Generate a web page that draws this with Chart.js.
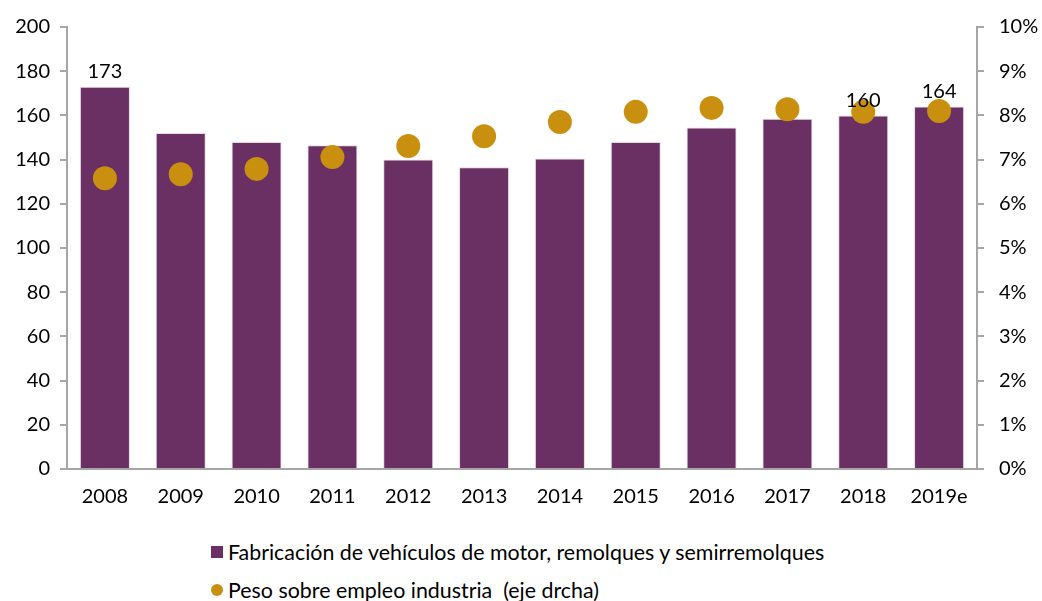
<!DOCTYPE html>
<html>
<head>
<meta charset="utf-8">
<script src="https://cdn.jsdelivr.net/npm/chart.js@4/dist/chart.umd.min.js"></script>
<style>
  body { margin: 0; background: #fff; font-family: Lato, sans-serif; }
  #wrap { position: relative; width: 1042px; height: 517px; }
  #legend { position: absolute; left: 211px; top: 533px; font-size: 21.4px; color: #000; white-space: pre; }
  #legend div { height: 38px; line-height: 30px; display: flex; align-items: center; }
  #legend span.mk { display: inline-block; margin-right: 5px; }
</style>
</head>
<body>
<div id="wrap"><canvas id="chart" width="1042" height="517"></canvas></div>
<div id="legend"></div>
<script>
// categories and values
const years = ['2008', '2009', '2010', '2011', '2012', '2013', '2014', '2015', '2016', '2017', '2018', '2019e'];
const empleo = [173, 152, 148, 146.5, 140, 136.5, 140.5, 148, 154.5, 158.5, 160, 164];
const peso = [6.58, 6.67, 6.79, 7.06, 7.31, 7.53, 7.85, 8.08, 8.17, 8.14, 8.08, 8.1];
const labelled = [0, 10, 11]; // bars that carry a value label

const purple = '#6A3064';
const gold = '#C9900F';
const axisGray = '#A6A6A6';

Chart.defaults.font.family = 'Lato, sans-serif';
Chart.defaults.font.size = 20;
Chart.defaults.color = '#000';

const barLabels = {
  id: 'barLabels',
  afterDatasetsDraw(chart) {
    const ctx = chart.ctx;
    const meta = chart.getDatasetMeta(0);
    ctx.save();
    ctx.font = '20px Lato, sans-serif';
    ctx.fillStyle = '#000';
    ctx.textAlign = 'center';
    ctx.textBaseline = 'bottom';
    labelled.forEach(i => {
      const bar = meta.data[i];
      ctx.fillText(String(empleo[i]), bar.x, bar.y - 5);
    });
    ctx.restore();
  }
};

const chart = new Chart(document.getElementById('chart'), {
  data: {
    labels: years,
    datasets: [
      {
        type: 'bar',
        label: 'Fabricación de vehículos de motor, remolques y semirremolques',
        data: empleo,
        yAxisID: 'y',
        backgroundColor: purple,
        borderColor: '#E6D8E4',
        borderWidth: 1,
        categoryPercentage: 0.66,
        barPercentage: 1.0,
        order: 1
      },
      {
        type: 'line',
        label: 'Peso sobre empleo industria  (eje drcha)',
        data: peso,
        yAxisID: 'y1',
        showLine: false,
        pointRadius: 12,
        pointHoverRadius: 12,
        pointBackgroundColor: gold,
        pointBorderWidth: 0,
        borderColor: gold,
        backgroundColor: gold,
        order: 0
      }
    ]
  },
  options: {
    responsive: false,
    animation: false,
    layout: { padding: { top: 18, left: 0, right: 0, bottom: 0 } },
    plugins: {
      legend: { display: false },
      tooltip: { enabled: false }
    },
    scales: {
      x: {
        grid: { display: false },
        border: { display: true, color: axisGray, width: 2 },
        ticks: { padding: 8, maxRotation: 0, autoSkip: false }
      },
      y: {
        position: 'left',
        min: 0,
        max: 200,
        ticks: { stepSize: 20, padding: 10 },
        grid: { drawOnChartArea: false, tickLength: 7, color: axisGray, lineWidth: 2 },
        border: { display: true, color: axisGray, width: 2 },
        afterFit(scale) { scale.width = 67; }
      },
      y1: {
        position: 'right',
        min: 0,
        max: 10,
        ticks: { stepSize: 1, padding: 15, callback: v => v + '%' },
        grid: { drawOnChartArea: false, tickLength: 7, color: axisGray, lineWidth: 2 },
        border: { display: true, color: axisGray, width: 2 },
        afterFit(scale) { scale.width = 65; }
      }
    }
  },
  plugins: [barLabels]
});

// html legend, one entry per line
const legend = document.getElementById('legend');
chart.data.datasets.forEach(ds => {
  const row = document.createElement('div');
  const mk = document.createElement('span');
  mk.className = 'mk';
  if (ds.type === 'bar') {
    mk.style.cssText = 'width:12px;height:12px;background:' + purple;
  } else {
    mk.style.cssText = 'width:12px;height:12px;border-radius:50%;background:' + gold;
  }
  row.appendChild(mk);
  row.appendChild(document.createTextNode(ds.label));
  legend.appendChild(row);
});
</script>
</body>
</html>
